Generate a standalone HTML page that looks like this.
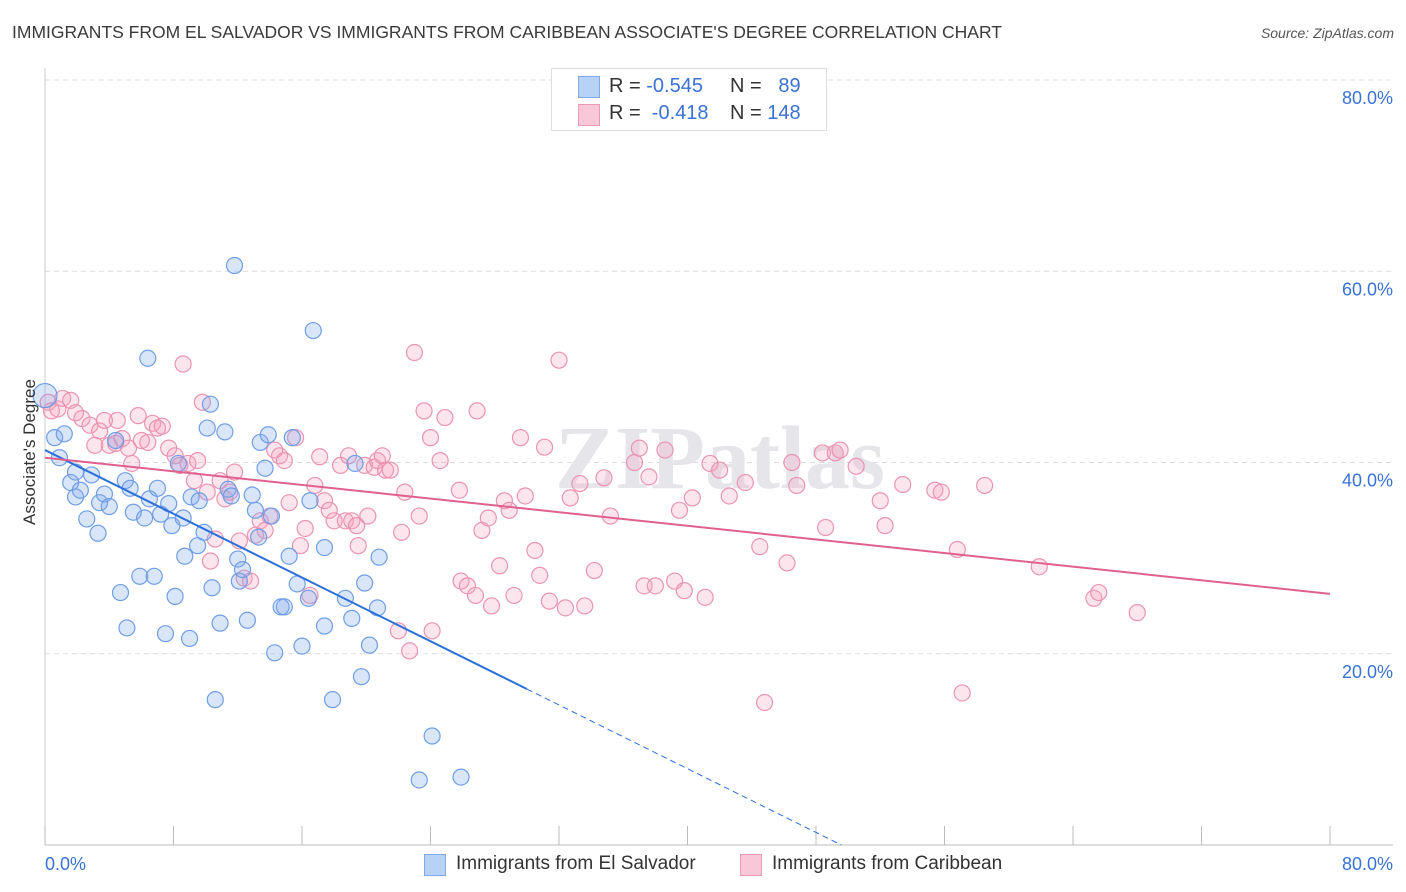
<!DOCTYPE html>
<html><head><meta charset="utf-8">
<style>
body{margin:0;background:#fff;font-family:"Liberation Sans",sans-serif;}
#wrap{position:relative;width:1406px;height:892px;overflow:hidden;}
.t{position:absolute;white-space:nowrap;}
</style></head>
<body>
<div id="wrap">
<div class="t" style="left:12px;top:22px;font-size:17.5px;color:#3a3a3a;">IMMIGRANTS FROM EL SALVADOR VS IMMIGRANTS FROM CARIBBEAN ASSOCIATE'S DEGREE CORRELATION CHART</div>
<div class="t" style="right:12px;top:25px;font-size:14px;color:#555;font-style:italic;">Source: ZipAtlas.com</div>
<svg id="chart" width="1406" height="892" style="position:absolute;left:0;top:0;"></svg>
<div style="position:absolute;left:551px;top:68px;width:274px;height:61px;border:1px solid #ddd;background:#fff;font-size:20px;color:#333;">
  <div style="position:absolute;left:26px;top:7px;width:20px;height:20px;background:#b8d2f5;border:1px solid #7fa8e6;"></div>
  <div class="t" style="left:57px;top:6px;">R = <span style="color:#3a72d4">-0.545</span></div>
  <div class="t" style="left:178px;top:6px;">N = <span style="color:#3a72d4">&nbsp; 89</span></div>
  <div style="position:absolute;left:26px;top:35px;width:20px;height:20px;background:#f9c8d8;border:1px solid #ec9ab6;"></div>
  <div class="t" style="left:57px;top:33px;">R = &nbsp;<span style="color:#3a72d4">-0.418</span></div>
  <div class="t" style="left:178px;top:33px;">N = <span style="color:#3a72d4">148</span></div>
</div>
<div>
  <div style="position:absolute;left:424px;top:854px;width:20px;height:20px;background:#b8d2f5;border:1px solid #7fa8e6;"></div>
  <div class="t" style="left:456px;top:853px;font-size:19px;color:#333;">Immigrants from El Salvador</div>
  <div style="position:absolute;left:740px;top:854px;width:20px;height:20px;background:#f9c8d8;border:1px solid #ec9ab6;"></div>
  <div class="t" style="left:772px;top:853px;font-size:19px;color:#333;">Immigrants from Caribbean</div>
</div>
<div class="t" style="left:-40px;top:445px;width:140px;text-align:center;font-size:17px;color:#333;transform:rotate(-90deg);">Associate's Degree</div>
</div>
<script>
const blueX=[0,0.6,1.2,0.9,1.9,1.6,1.9,2.2,2.6,2.9,3.3,3.4,3.7,4.0,4.4,4.7,5.1,5.0,5.3,5.5,5.9,6.2,6.4,6.5,6.8,7.0,7.2,7.5,7.7,7.9,8.1,8.3,8.6,8.7,9.0,9.1,9.5,9.6,9.9,10.1,10.3,10.4,10.6,10.9,11.2,11.4,11.6,11.8,12.0,12.1,12.3,12.6,12.9,13.1,13.3,13.4,13.7,13.9,14.1,14.3,14.7,14.9,15.2,15.4,15.7,16.0,16.4,16.5,16.7,17.4,17.4,17.9,18.7,19.1,19.3,19.7,19.9,20.2,20.7,20.8,23.3,24.1,25.9];
const blueY=[47.0,42.6,43.0,40.5,39.0,37.9,36.4,37.1,34.1,38.7,32.6,35.8,36.7,35.4,42.3,26.4,22.7,38.1,37.3,34.8,28.1,34.2,50.9,36.2,28.1,37.3,34.6,22.1,35.7,33.4,26.0,39.9,34.2,30.2,21.6,36.4,31.3,36.0,32.7,43.6,46.1,26.9,15.2,23.2,43.2,37.2,36.5,60.6,29.9,27.6,28.8,23.5,36.6,35.0,32.2,42.1,39.4,42.9,34.4,20.1,24.9,24.9,30.2,42.6,27.3,20.8,25.8,36.0,53.8,31.1,22.9,15.2,25.8,23.7,39.9,17.6,27.4,20.9,24.8,30.1,6.8,11.4,7.1];
const pinkX=[0.2,0.4,0.8,1.1,1.6,1.9,2.3,2.8,3.1,3.4,3.7,4.0,4.4,4.5,4.8,5.2,5.4,5.8,6.0,6.4,6.7,7.0,7.3,7.7,8.1,8.4,8.6,8.9,9.3,9.5,9.8,10.1,10.3,10.6,10.9,11.2,11.5,11.8,12.1,12.4,12.8,13.1,13.4,13.7,14.0,14.3,14.6,14.9,15.2,15.6,15.9,16.2,16.5,16.8,17.1,17.4,17.7,18.0,18.4,18.7,18.9,19.1,19.4,19.5,19.9,20.1,20.5,20.7,21.0,21.2,21.5,22.0,22.2,22.4,22.7,23.0,23.3,23.6,24.0,24.1,24.6,24.9,25.8,25.9,26.3,26.8,26.9,27.2,27.6,27.8,28.3,28.6,28.9,29.2,29.6,29.9,30.5,30.8,31.1,31.4,32.0,32.4,32.7,33.3,33.6,34.2,34.8,35.2,36.7,37.0,37.3,37.6,38.0,38.6,39.2,39.5,39.8,40.3,41.1,41.4,42.0,42.6,43.6,44.5,44.8,46.2,46.5,46.8,48.4,48.6,49.2,49.5,50.5,52.0,52.3,53.4,55.4,55.8,56.8,57.1,58.5,61.9,65.3,65.6,68.0];
const pinkY=[46.3,45.4,45.6,46.7,46.5,45.2,44.6,43.9,41.8,43.3,44.4,41.8,42.0,44.4,42.5,41.5,39.9,44.9,42.3,42.1,44.1,43.6,43.8,41.5,40.7,39.7,50.3,39.9,38.1,40.2,46.3,36.9,29.7,32.0,38.1,36.2,36.9,39.0,31.8,27.9,27.6,32.4,33.9,32.9,34.4,41.3,40.7,40.2,35.8,42.6,31.3,33.1,26.1,37.6,40.6,36.0,35.0,33.9,39.7,33.9,40.7,33.9,33.4,31.3,39.7,34.4,39.5,40.2,40.7,39.2,39.2,22.4,32.7,36.9,20.3,51.5,34.4,45.4,42.6,22.4,40.2,44.7,37.1,27.6,27.1,26.1,45.4,32.9,34.2,25.0,29.2,36.0,35.0,26.1,42.6,36.5,30.8,28.2,41.6,25.5,50.7,24.8,36.3,37.8,25.0,28.7,38.4,34.4,40.0,41.5,27.1,38.5,27.1,41.3,27.6,35.0,26.6,36.3,25.9,39.9,39.2,36.5,37.9,31.2,14.9,29.5,40.0,37.6,41.0,33.2,41.0,41.3,39.6,36.0,33.4,37.7,37.1,36.9,30.9,15.9,37.6,29.1,25.8,26.4,24.3];
const blueTrend=[41.3,-0.833]; // intercept, slope
const pinkTrend=[40.5,-0.178];
const yTicks=[20,40,60,80];
const yTickLabels=["20.0%","40.0%","60.0%","80.0%"];
const xTickVals=[0,8,16,24,32,40,48,56,64,72,80];

const NS="http://www.w3.org/2000/svg";
const svg=document.getElementById('chart');
const X0=45,X1=1330,Y0=845,Y80=80;
const sx=v=>X0+(X1-X0)*v/80;
const sy=v=>Y0+(Y80-Y0)*v/80;
function mk(tag,attrs){const e=document.createElementNS(NS,tag);for(const k in attrs)e.setAttribute(k,attrs[k]);svg.appendChild(e);return e;}

yTicks.forEach((t,i)=>{
  const g=mk('line',{x1:X0,x2:1393,y1:sy(t),y2:sy(t),stroke:'#dcdcdc','stroke-dasharray':'5,4'});
  
  
  const tx=mk('text',{x:1393,y:sy(t)+24,'text-anchor':'end','font-size':'18','fill':'#3a72d4','font-family':'Liberation Sans, sans-serif'});
  tx.textContent=yTickLabels[i];
  
  
});
const ax=mk('line',{x1:X0,x2:X0,y1:68,y2:Y0,stroke:'#ccc'});


const axx=mk('line',{x1:X0,x2:1393,y1:Y0,y2:Y0,stroke:'#bbb'});


xTickVals.forEach(t=>{
  const l=mk('line',{x1:sx(t),x2:sx(t),y1:826,y2:Y0,stroke:'#bbb'});
  
  
});
const xl0=mk('text',{x:45,y:870,'font-size':'18',fill:'#3a72d4','font-family':'Liberation Sans, sans-serif'});xl0.textContent='0.0%';


const xl1=mk('text',{x:1393,y:870,'text-anchor':'end','font-size':'18',fill:'#3a72d4','font-family':'Liberation Sans, sans-serif'});xl1.textContent='80.0%';


const wm=mk('text',{x:720,y:488,'text-anchor':'middle','font-size':'90','fill':'#e6e6ea','font-family':'Liberation Serif, serif','font-weight':'bold'});
wm.textContent='ZIPatlas';



pinkX.forEach((v,i)=>{
  const c=mk('circle',{cx:sx(v),cy:sy(pinkY[i]),r:8,fill:'rgba(244,160,190,0.28)',stroke:'#eb93b2','stroke-width':1.2});
  
  
});
blueX.forEach((v,i)=>{
  const c=mk('circle',{cx:sx(v),cy:sy(blueY[i]),r:i===0?12:8,fill:'rgba(130,170,235,0.3)',stroke:'#6f9ee6','stroke-width':1.2});
  
  
});
const bEnd=30, bZero=-blueTrend[0]/blueTrend[1];
const bl=mk('line',{x1:sx(0),y1:sy(blueTrend[0]),x2:sx(bEnd),y2:sy(blueTrend[0]+blueTrend[1]*bEnd),stroke:'#2b6fd8','stroke-width':2});


const bd=mk('line',{x1:sx(bEnd),y1:sy(blueTrend[0]+blueTrend[1]*bEnd),x2:sx(bZero),y2:sy(0),stroke:'#2b6fd8','stroke-width':1,'stroke-dasharray':'6,4'});


const pl=mk('line',{x1:sx(0),y1:sy(pinkTrend[0]),x2:sx(80),y2:sy(pinkTrend[0]+pinkTrend[1]*80),stroke:'#e0608f','stroke-width':2});


</script>
</body></html>
